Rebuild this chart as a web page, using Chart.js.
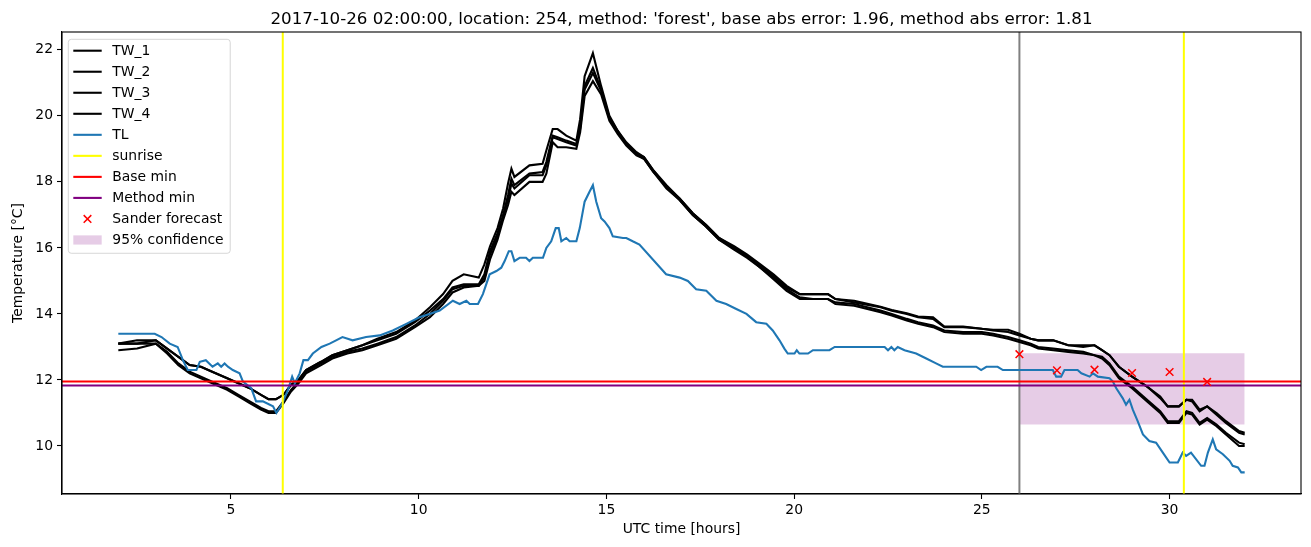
<!DOCTYPE html>
<html>
<head>
<meta charset="utf-8">
<script src="https://cdn.jsdelivr.net/npm/chart.js@4.4.0/dist/chart.umd.min.js"></script>
<style>
  html, body { margin: 0; padding: 0; background: #fff; }
  #wrap { width: 1311px; height: 547px; }
</style>
</head>
<body>
<div id="wrap"><canvas id="tempChart" width="1311" height="547"></canvas></div>
<script>
// observed air temperature (TL)
const tlHours = [2.0, 2.97, 3.15, 3.37, 3.58, 3.72, 3.85, 4.08, 4.17, 4.33, 4.51, 4.65, 4.74, 4.83, 4.92, 5.05, 5.23, 5.32, 5.54, 5.67,
  5.85, 6.12, 6.21, 6.37, 6.52, 6.63, 6.7, 6.83, 6.93, 7.05, 7.18, 7.41, 7.63, 7.8, 7.97, 8.24, 8.6, 8.96, 9.31, 9.67,
  10.02, 10.29, 10.56, 10.91, 11.09, 11.27, 11.36, 11.58, 11.71, 11.89, 12.07, 12.2, 12.29, 12.4, 12.47, 12.55, 12.69, 12.86, 12.95, 13.04,
  13.13, 13.31, 13.4, 13.53, 13.65, 13.73, 13.8, 13.93, 14.02, 14.2, 14.29, 14.42, 14.55, 14.64, 14.73, 14.86, 14.95, 15.08, 15.17, 15.44,
  15.53, 15.7, 15.88, 16.59, 16.95, 17.17, 17.39, 17.66, 17.93, 18.19, 18.46, 18.73, 18.99, 19.26, 19.43, 19.61, 19.74, 19.83, 20.01, 20.07,
  20.14, 20.37, 20.5, 20.94, 21.08, 22.41, 22.5, 22.59, 22.67, 22.76, 22.94, 23.25, 23.52, 23.78, 23.96, 24.85, 24.98, 25.12, 25.42, 25.56,
  26.89, 26.98, 27.11, 27.2, 27.55, 27.65, 27.87, 27.96, 28.09, 28.4, 28.49, 28.58, 28.75, 28.84, 28.93, 29.02, 29.15, 29.29, 29.46, 29.64,
  29.82, 30.0, 30.22, 30.35, 30.44, 30.57, 30.84, 30.93, 31.02, 31.15, 31.24, 31.42, 31.6, 31.68, 31.82, 31.91, 32.0];
const tlValues = [13.4, 13.4, 13.3, 13.1, 13.0, 12.6, 12.3, 12.3, 12.55, 12.6, 12.4, 12.5, 12.4, 12.5, 12.4, 12.3, 12.2, 11.95, 11.75, 11.35,
  11.35, 11.2, 11.0, 11.3, 11.7, 12.1, 11.9, 12.2, 12.6, 12.6, 12.8, 13.0, 13.1, 13.2, 13.3, 13.2, 13.3, 13.35, 13.5, 13.7,
  13.9, 14.0, 14.1, 14.4, 14.3, 14.4, 14.3, 14.3, 14.6, 15.2, 15.3, 15.4, 15.6, 15.9, 15.9, 15.6, 15.7, 15.7, 15.6, 15.7,
  15.7, 15.7, 16.0, 16.2, 16.6, 16.6, 16.2, 16.3, 16.2, 16.2, 16.6, 17.4, 17.7, 17.9, 17.4, 16.9, 16.8, 16.6, 16.35, 16.3,
  16.3, 16.2, 16.1, 15.2, 15.1, 15.0, 14.75, 14.7, 14.4, 14.3, 14.15, 14.0, 13.75, 13.7, 13.5, 13.2, 12.95, 12.8, 12.8, 12.9,
  12.8, 12.8, 12.9, 12.9, 13.0, 13.0, 12.9, 13.0, 12.9, 13.0, 12.9, 12.8, 12.65, 12.5, 12.4, 12.4, 12.3, 12.4, 12.4, 12.3,
  12.3, 12.1, 12.1, 12.3, 12.3, 12.2, 12.1, 12.2, 12.1, 12.05, 11.95, 11.75, 11.45, 11.25, 11.4, 11.1, 10.75, 10.35, 10.15, 10.1,
  9.8, 9.5, 9.5, 9.8, 9.7, 9.8, 9.4, 9.4, 9.8, 10.2, 9.9, 9.75, 9.55, 9.4, 9.35, 9.2, 9.2];

// TW_1 .. TW_4 share one time axis
const twHours = [2.0, 2.5, 3.0, 3.3, 3.6, 3.9, 4.2, 4.5, 4.9, 5.2, 5.5, 5.8, 6.0, 6.2, 6.4, 6.6, 6.8, 7.0, 7.4, 7.7,
  8.1, 8.5, 8.9, 9.4, 9.9, 10.3, 10.65, 10.9, 11.2, 11.6, 11.75, 11.9, 12.1, 12.25, 12.38, 12.47, 12.55, 12.95, 13.3, 13.4,
  13.57, 13.7, 13.93, 14.2, 14.3, 14.42, 14.64, 14.86, 15.08, 15.3, 15.53, 15.8, 16.0, 16.25, 16.6, 16.95, 17.3, 17.65, 18.0, 18.4,
  18.75, 19.1, 19.45, 19.8, 20.15, 20.5, 20.9, 21.1, 21.6, 22.3, 22.6, 23.0, 23.3, 23.7, 24.0, 24.5, 25.0, 25.3, 25.7, 26.0,
  26.3, 26.5, 26.9, 27.3, 27.7, 28.0, 28.2, 28.4, 28.65, 29.0, 29.4, 29.75, 29.95, 30.25, 30.45, 30.6, 30.8, 31.0, 31.25, 31.5,
  31.85, 32.0];
const tw1 = [13.1, 13.2, 13.2, 12.95, 12.7, 12.45, 12.4, 12.25, 12.05, 11.9, 11.75, 11.55, 11.42, 11.42, 11.55, 11.85, 12.0, 12.3, 12.55, 12.75,
  12.9, 13.05, 13.25, 13.45, 13.8, 14.2, 14.6, 15.0, 15.2, 15.1, 15.5, 16.05, 16.6, 17.2, 17.95, 18.4, 18.15, 18.5, 18.55, 18.95,
  19.6, 19.6, 19.4, 19.25, 19.9, 21.2, 21.9, 20.9, 20.0, 19.55, 19.2, 18.9, 18.75, 18.35, 17.9, 17.5, 17.05, 16.7, 16.3, 16.05,
  15.8, 15.5, 15.2, 14.85, 14.6, 14.6, 14.6, 14.45, 14.4, 14.22, 14.12, 14.02, 13.92, 13.9, 13.62, 13.62, 13.55, 13.52, 13.52, 13.4,
  13.25, 13.2, 13.2, 13.05, 13.05, 13.05, 12.9, 12.75, 12.4, 12.1, 11.8, 11.5, 11.2, 11.2, 11.4, 11.4, 11.1, 11.2, 11.0, 10.75,
  10.45, 10.4];
const tw2 = [13.1, 13.1, 13.2, 12.95, 12.7, 12.45, 12.4, 12.25, 12.05, 11.9, 11.75, 11.55, 11.42, 11.42, 11.55, 11.85, 12.0, 12.3, 12.55, 12.75,
  12.9, 13.05, 13.2, 13.4, 13.75, 14.1, 14.45, 14.8, 14.9, 14.9, 15.2, 15.9, 16.45, 17.0, 17.6, 18.1, 17.9, 18.25, 18.3, 18.6,
  19.4, 19.35, 19.25, 19.15, 19.7, 20.9, 21.45, 20.8, 19.95, 19.55, 19.15, 18.85, 18.75, 18.35, 17.85, 17.5, 17.05, 16.7, 16.3, 16.0,
  15.75, 15.45, 15.15, 14.8, 14.6, 14.6, 14.6, 14.45, 14.35, 14.2, 14.1, 14.0, 13.9, 13.85, 13.6, 13.6, 13.55, 13.5, 13.45, 13.35,
  13.25, 13.2, 13.2, 13.05, 13.0, 13.05, 12.9, 12.75, 12.4, 12.1, 11.8, 11.45, 11.2, 11.2, 11.4, 11.35, 11.05, 11.2, 10.95, 10.7,
  10.4, 10.35];
const tw3 = [13.1, 13.1, 13.1, 12.85, 12.5, 12.25, 12.1, 11.95, 11.75, 11.55, 11.35, 11.15, 11.05, 11.05, 11.35, 11.7, 11.95, 12.25, 12.5, 12.7,
  12.85, 12.95, 13.1, 13.3, 13.65, 14.0, 14.4, 14.75, 14.85, 14.85, 15.1, 15.8, 16.35, 16.95, 17.45, 17.95, 17.8, 18.2, 18.2, 18.5,
  19.35, 19.3, 19.2, 19.1, 19.6, 20.8, 21.3, 20.75, 19.9, 19.5, 19.15, 18.85, 18.7, 18.3, 17.85, 17.45, 17.0, 16.65, 16.25, 16.0,
  15.75, 15.4, 15.1, 14.75, 14.5, 14.45, 14.45, 14.35, 14.3, 14.1, 14.0, 13.85, 13.75, 13.65, 13.5, 13.45, 13.45, 13.4, 13.3, 13.2,
  13.1, 13.0, 12.95, 12.9, 12.85, 12.75, 12.7, 12.5, 12.1, 11.8, 11.4, 11.05, 10.75, 10.75, 11.05, 11.0, 10.7, 10.85, 10.65, 10.4,
  10.1, 10.05];
const tw4 = [12.9, 12.95, 13.1, 12.8, 12.45, 12.2, 12.05, 11.9, 11.7, 11.5, 11.3, 11.1, 11.0, 11.0, 11.3, 11.65, 11.9, 12.2, 12.45, 12.65,
  12.8, 12.9, 13.05, 13.25, 13.6, 13.9, 14.3, 14.65, 14.8, 14.85, 15.0, 15.65, 16.25, 16.85, 17.3, 17.7, 17.6, 18.0, 18.0, 18.25,
  19.2, 19.05, 19.05, 19.0, 19.5, 20.6, 21.05, 20.65, 19.85, 19.45, 19.1, 18.8, 18.7, 18.3, 17.8, 17.45, 17.0, 16.65, 16.25, 15.95,
  15.7, 15.4, 15.05, 14.7, 14.45, 14.45, 14.45, 14.3, 14.25, 14.05, 13.95, 13.8, 13.7, 13.6, 13.45, 13.4, 13.4, 13.35, 13.25, 13.15,
  13.05, 12.95, 12.9, 12.85, 12.8, 12.75, 12.65, 12.45, 12.05, 11.75, 11.35, 11.0, 10.7, 10.7, 11.0, 10.95, 10.65, 10.8, 10.6, 10.35,
  10.0, 10.0];

const sunriseHours = [6.38, 30.38];
const forecastStart = 26;
const baseMin = 11.95;
const methodMin = 11.83;
const sanderHours = [26, 27, 28, 29, 30, 31];
const sanderValues = [12.78, 12.29, 12.31, 12.21, 12.24, 11.94];
const confHours = [26, 32];
const confUpper = [12.81, 12.81];
const confLower = [10.65, 10.65];

const xTicks = [5, 10, 15, 20, 25, 30];
const yTicks = [10, 12, 14, 16, 18, 20, 22];
const xRange = [0.5, 33.5];
const yRange = [8.545, 22.54];

const FONT = 'DejaVu Sans';
const toPts = (xs, ys) => xs.map((x, i) => ({ x, y: ys[i] }));
const vline = (x) => [{ x, y: yRange[0] }, { x, y: yRange[1] }];
const hline = (y) => [{ x: xRange[0], y }, { x: xRange[1], y }];

const lineDefaults = { borderWidth: 2.1, pointRadius: 0, tension: 0, fill: false };

const datasets = [
  { ...lineDefaults, label: 'TW_1', data: toPts(twHours, tw1), borderColor: '#000', order: 10 },
  { ...lineDefaults, label: 'TW_2', data: toPts(twHours, tw2), borderColor: '#000', order: 9 },
  { ...lineDefaults, label: 'TW_3', data: toPts(twHours, tw3), borderColor: '#000', order: 8 },
  { ...lineDefaults, label: 'TW_4', data: toPts(twHours, tw4), borderColor: '#000', order: 7 },
  { ...lineDefaults, label: 'TL', data: toPts(tlHours, tlValues), borderColor: '#1f77b4', order: 6 },
  { ...lineDefaults, label: 'sunrise', data: vline(sunriseHours[0]), borderColor: '#ffff00', borderWidth: 2, order: 5 },
  { ...lineDefaults, data: vline(sunriseHours[1]), borderColor: '#ffff00', borderWidth: 2, order: 5 },
  { ...lineDefaults, label: 'Base min', data: hline(baseMin), borderColor: '#ff0000', borderWidth: 2, order: 4 },
  { ...lineDefaults, label: 'Method min', data: hline(methodMin), borderColor: '#800080', borderWidth: 2, order: 3 },
  { ...lineDefaults, data: vline(forecastStart), borderColor: '#808080', borderWidth: 2, order: 11 },
  { label: 'Sander forecast', type: 'line', showLine: false, data: toPts(sanderHours, sanderValues),
    pointStyle: 'crossRot', pointRadius: 5.4, pointBorderColor: '#ff0000', pointBorderWidth: 1.5,
    borderColor: '#ff0000', order: 2, markerLegend: true },
  { ...lineDefaults, data: toPts(confHours, confLower), borderWidth: 0, borderColor: 'rgba(0,0,0,0)', order: 20 },
  { ...lineDefaults, label: '95% confidence', data: toPts(confHours, confUpper), borderWidth: 0,
    borderColor: 'rgba(0,0,0,0)', backgroundColor: 'rgba(128,0,128,0.2)', fill: '-1', order: 19, patchLegend: true }
];

const titlePlugin = {
  id: 'axTitle',
  afterDraw(chart) {
    const { ctx, chartArea } = chart;
    ctx.save();
    ctx.font = `16.7px "${FONT}"`;
    ctx.fillStyle = '#000';
    ctx.textAlign = 'center';
    ctx.textBaseline = 'alphabetic';
    ctx.fillText("2017-10-26 02:00:00, location: 254, method: 'forest', base abs error: 1.96, method abs error: 1.81",
      (chartArea.left + chartArea.right) / 2, chartArea.top - 8);
    ctx.restore();
  }
};

const framePlugin = {
  id: 'frame',
  afterDatasetsDraw(chart) {
    const { ctx, chartArea: a } = chart;
    ctx.save();
    ctx.strokeStyle = '#000';
    ctx.lineWidth = 1.1;
    ctx.strokeRect(a.left, a.top, a.right - a.left, a.bottom - a.top);
    ctx.restore();
  }
};

const legendPlugin = {
  id: 'boxLegend',
  afterDraw(chart) {
    const { ctx, chartArea: a } = chart;
    const items = chart.data.datasets.filter(d => d.label);
    ctx.save();
    ctx.font = `13.9px "${FONT}"`;
    const maxW = Math.max(...items.map(d => ctx.measureText(d.label).width));
    const left = a.left + 6.3, top = a.top + 7.3;
    const rowH = 21.03;
    const w = 44 + maxW + 6.6;
    const h = 11.4 + rowH * (items.length - 1) + 13.3;
    const r = 3;
    ctx.beginPath();
    ctx.moveTo(left + r, top);
    ctx.lineTo(left + w - r, top);
    ctx.quadraticCurveTo(left + w, top, left + w, top + r);
    ctx.lineTo(left + w, top + h - r);
    ctx.quadraticCurveTo(left + w, top + h, left + w - r, top + h);
    ctx.lineTo(left + r, top + h);
    ctx.quadraticCurveTo(left, top + h, left, top + h - r);
    ctx.lineTo(left, top + r);
    ctx.quadraticCurveTo(left, top, left + r, top);
    ctx.closePath();
    ctx.fillStyle = 'rgba(255,255,255,0.8)';
    ctx.fill();
    ctx.strokeStyle = 'rgba(204,204,204,0.8)';
    ctx.lineWidth = 1;
    ctx.stroke();

    items.forEach((d, i) => {
      const cy = top + 11.4 + i * rowH;
      const hx0 = left + 5, hx1 = left + 33.4;
      if (d.patchLegend) {
        ctx.fillStyle = d.backgroundColor;
        ctx.fillRect(hx0, cy - 4.6, hx1 - hx0, 9.2);
      } else if (d.markerLegend) {
        const cx = (hx0 + hx1) / 2, s = 3.8;
        ctx.strokeStyle = d.pointBorderColor;
        ctx.lineWidth = d.pointBorderWidth;
        ctx.beginPath();
        ctx.moveTo(cx - s, cy - s); ctx.lineTo(cx + s, cy + s);
        ctx.moveTo(cx - s, cy + s); ctx.lineTo(cx + s, cy - s);
        ctx.stroke();
      } else {
        ctx.strokeStyle = d.borderColor;
        ctx.lineWidth = 2.1;
        ctx.beginPath();
        ctx.moveTo(hx0, cy); ctx.lineTo(hx1, cy);
        ctx.stroke();
      }
      ctx.fillStyle = '#000';
      ctx.textAlign = 'left';
      ctx.textBaseline = 'middle';
      ctx.fillText(d.label, left + 44, cy + 0.5);
    });
    ctx.restore();
  }
};

Chart.defaults.font.family = FONT;
Chart.defaults.font.size = 13.9;
Chart.defaults.color = '#000';

new Chart(document.getElementById('tempChart'), {
  type: 'line',
  data: { datasets },
  options: {
    responsive: false,
    animation: false,
    events: [],
    layout: { padding: { top: 32, left: 0, right: 10, bottom: 0 } },
    plugins: { legend: { display: false }, tooltip: { enabled: false }, title: { display: false } },
    scales: {
      x: {
        type: 'linear', min: xRange[0], max: xRange[1],
        afterBuildTicks: (s) => { s.ticks = xTicks.map(v => ({ value: v })); },
        afterFit: (s) => { s.height = 53; },
        ticks: { autoSkip: false, maxRotation: 0, padding: 3, font: { size: 13.9 } },
        grid: { drawOnChartArea: false, drawTicks: true, tickLength: 5, tickColor: '#000', tickWidth: 1.1 },
        border: { display: true, color: '#000', width: 1.1 },
        title: { display: true, text: 'UTC time [hours]', font: { size: 13.9 }, padding: { top: 0, bottom: 9.7 } }
      },
      y: {
        type: 'linear', min: yRange[0], max: yRange[1],
        afterBuildTicks: (s) => { s.ticks = yTicks.map(v => ({ value: v })); },
        afterFit: (s) => { s.width = 62; },
        ticks: { autoSkip: false, padding: 4, font: { size: 13.9 } },
        grid: { drawOnChartArea: false, drawTicks: true, tickLength: 5, tickColor: '#000', tickWidth: 1.1 },
        border: { display: true, color: '#000', width: 1.1 },
        title: { display: true, text: 'Temperature [°C]', font: { size: 13.9 }, padding: { top: 9.7, bottom: 0 } }
      }
    }
  },
  plugins: [titlePlugin, framePlugin, legendPlugin]
});
</script>
</body>
</html>
